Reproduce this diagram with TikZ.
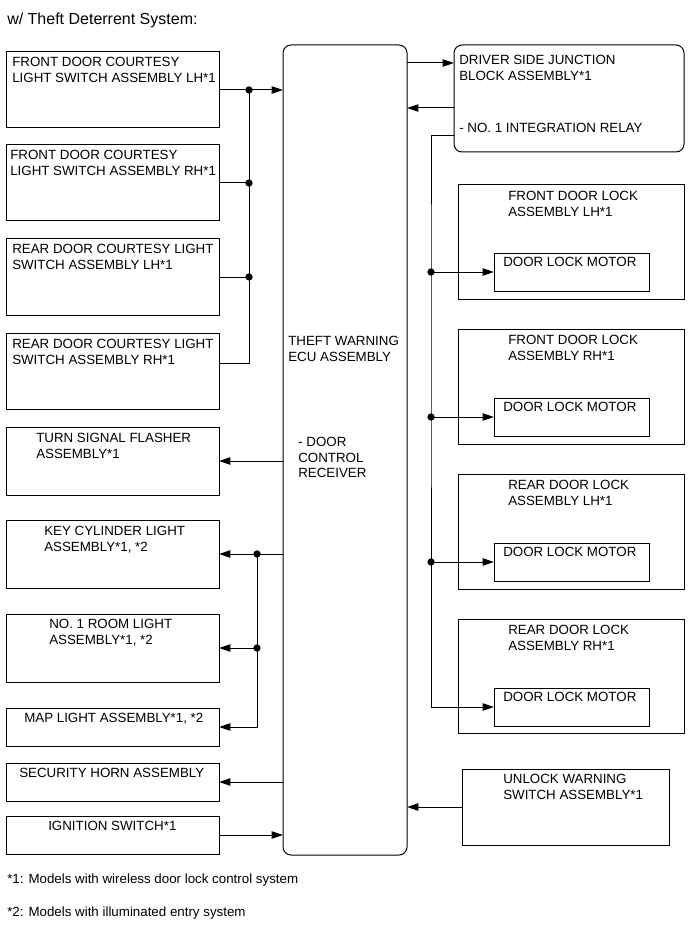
\documentclass[tikz,border=0pt]{standalone}
\usepackage{fontspec}
\setmainfont{Liberation Sans}
\usetikzlibrary{arrows.meta}
\begin{document}
\begin{tikzpicture}[x=0.75pt,y=-0.75pt,
  box/.style 2 args={draw, line width=0.75pt, rectangle, anchor=north west, inner sep=0pt, outer sep=0pt,
    minimum width=#1*0.75pt, minimum height=#2*0.75pt},
  rbox/.style 2 args={box={#1}{#2}, rounded corners=6pt},
  txt/.style={anchor=north west, inner sep=0pt, align=left, font=\fontsize{10}{11.6}\selectfont},
  wire/.style={line width=0.75pt},
  arr/.style={wire, -{Triangle[length=8.5pt,width=5.5pt]}},
  jdot/.style={circle, fill=black, inner sep=0pt, minimum size=5.5pt}]
\useasboundingbox (0,0) rectangle (691,952);

\node[txt, font=\fontsize{12}{14}\selectfont] (title) at (7,13) {w/ Theft Deterrent System:};

% left boxes
\node[box={213}{76}] (L1) at (6,52) {};
\node[box={213}{76}] (L2) at (6,145) {};
\node[box={213}{76}] (L3) at (6,239) {};
\node[box={213}{76}] (L4) at (6,333) {};
\node[box={213}{68}] (L5) at (6,427) {};
\node[box={213}{68}] (L6) at (6,520) {};
\node[box={213}{68}] (L7) at (6,614) {};
\node[box={213}{38}] (L8) at (6,708) {};
\node[box={213}{38}] (L9) at (6,763) {};
\node[box={213}{38}] (L10) at (6,816) {};

\node[txt] (tL1) at (12,57) {FRONT DOOR COURTESY\\LIGHT SWITCH ASSEMBLY LH*1};
\node[txt] (tL2) at (10,150) {FRONT DOOR COURTESY\\LIGHT SWITCH ASSEMBLY RH*1};
\node[txt] (tL3) at (12,244) {REAR DOOR COURTESY LIGHT\\SWITCH ASSEMBLY LH*1};
\node[txt] (tL4) at (12,339) {REAR DOOR COURTESY LIGHT\\SWITCH ASSEMBLY RH*1};
\node[txt] (tL5) at (36,433) {TURN SIGNAL FLASHER\\ASSEMBLY*1};
\node[txt] (tL6) at (44,526) {KEY CYLINDER LIGHT\\ASSEMBLY*1, *2};
\node[txt] (tL7) at (49,619) {NO. 1 ROOM LIGHT\\ASSEMBLY*1, *2};
\node[txt] (tL8) at (24,713) {MAP LIGHT ASSEMBLY*1, *2};
\node[txt] (tL9) at (19,768) {SECURITY HORN ASSEMBLY};
\node[txt] (tL10) at (48,821) {IGNITION SWITCH*1};

% ECU
\node[rbox={124}{810}] (ECU) at (283,45) {};
\node[txt] (tE1) at (288,336) {THEFT WARNING\\ECU ASSEMBLY};
\node[txt] (tE2) at (298,437) {- DOOR\\CONTROL\\RECEIVER};

% junction block
\node[rbox={230}{107}] (JB) at (454,45) {};
\node[txt] (tJ1) at (459,55) {DRIVER SIDE JUNCTION\\BLOCK ASSEMBLY*1};
\node[txt] (tJ2) at (459,123) {- NO. 1 INTEGRATION RELAY};

% door locks
\node[box={226}{114}] (D1) at (458,185) {};
\node[box={226}{115}] (D2) at (458,329) {};
\node[box={226}{115}] (D3) at (458,474) {};
\node[box={226}{114}] (D4) at (458,619) {};
\node[txt] (tD1) at (508,191) {FRONT DOOR LOCK\\ASSEMBLY LH*1};
\node[txt] (tD2) at (508,335) {FRONT DOOR LOCK\\ASSEMBLY RH*1};
\node[txt] (tD3) at (508,480) {REAR DOOR LOCK\\ASSEMBLY LH*1};
\node[txt] (tD4) at (508,625) {REAR DOOR LOCK\\ASSEMBLY RH*1};
\node[box={155}{38}] (M1) at (494,253) {};
\node[box={155}{38}] (M2) at (494,398) {};
\node[box={155}{38}] (M3) at (494,543) {};
\node[box={155}{38}] (M4) at (494,688) {};
\node[txt] (tM1) at (503,257) {DOOR LOCK MOTOR};
\node[txt] (tM2) at (503,402) {DOOR LOCK MOTOR};
\node[txt] (tM3) at (503,547) {DOOR LOCK MOTOR};
\node[txt] (tM4) at (503,692) {DOOR LOCK MOTOR};

% unlock warning
\node[box={207}{76}] (U) at (462,769) {};
\node[txt] (tU) at (503,774) {UNLOCK WARNING\\SWITCH ASSEMBLY*1};

% footnotes
\node[txt] (f1) at (7,874) {*1: Models with wireless door lock control system};
\node[txt] (f2) at (7,907) {*2: Models with illuminated entry system};

% left input bus
\coordinate (lb) at (249,0);
\coordinate (l4) at (0,363);
\draw[wire] (L1.east) -- (lb |- L1.east);
\draw[arr] (lb |- L1.east) -- (ECU.west |- L1.east);
\draw[wire] (L2.east) -- (lb |- L2.east);
\draw[wire] (L3.east) -- (lb |- L3.east);
\draw[wire] (L4.east |- l4) -| (lb |- L1.east);
\node[jdot] (n1) at (lb |- L1.east) {};
\node[jdot] (n2) at (lb |- L2.east) {};
\node[jdot] (n3) at (lb |- L3.east) {};

% outputs
\draw[arr] (ECU.west |- L5.east) -- (L5.east);
\coordinate (kb) at (257,0);
\draw[wire] (ECU.west |- L6.east) -- (kb |- L6.east);
\draw[arr] (kb |- L6.east) -- (L6.east);
\draw[arr] (kb |- L7.east) -- (L7.east);
\draw[arr] (kb |- L6.east) |- (L8.east);
\node[jdot] (n4) at (kb |- L6.east) {};
\node[jdot] (n5) at (kb |- L7.east) {};
\draw[arr] (ECU.west |- L9.east) -- (L9.east);
\draw[arr] (L10.east) -- (ECU.west |- L10.east);

% junction block links
\coordinate (j1) at (0,63);
\coordinate (j2) at (0,108);
\coordinate (j3) at (0,136);
\draw[arr] (ECU.east |- j1) -- (JB.west |- j1);
\draw[arr] (JB.west |- j2) -- (ECU.east |- j2);
\coordinate (rb) at (431,0);
\draw[arr] (JB.west |- j3) -| (rb |- M1.west) |- (M4.west);
\draw[arr] (rb |- M1.west) -- (M1.west);
\draw[arr] (rb |- M2.west) -- (M2.west);
\draw[arr] (rb |- M3.west) -- (M3.west);
\node[jdot] (n6) at (rb |- M1.west) {};
\node[jdot] (n7) at (rb |- M2.west) {};
\node[jdot] (n8) at (rb |- M3.west) {};

\draw[arr] (U.west) -- (ECU.east |- U.west);
\end{tikzpicture}
\end{document}
